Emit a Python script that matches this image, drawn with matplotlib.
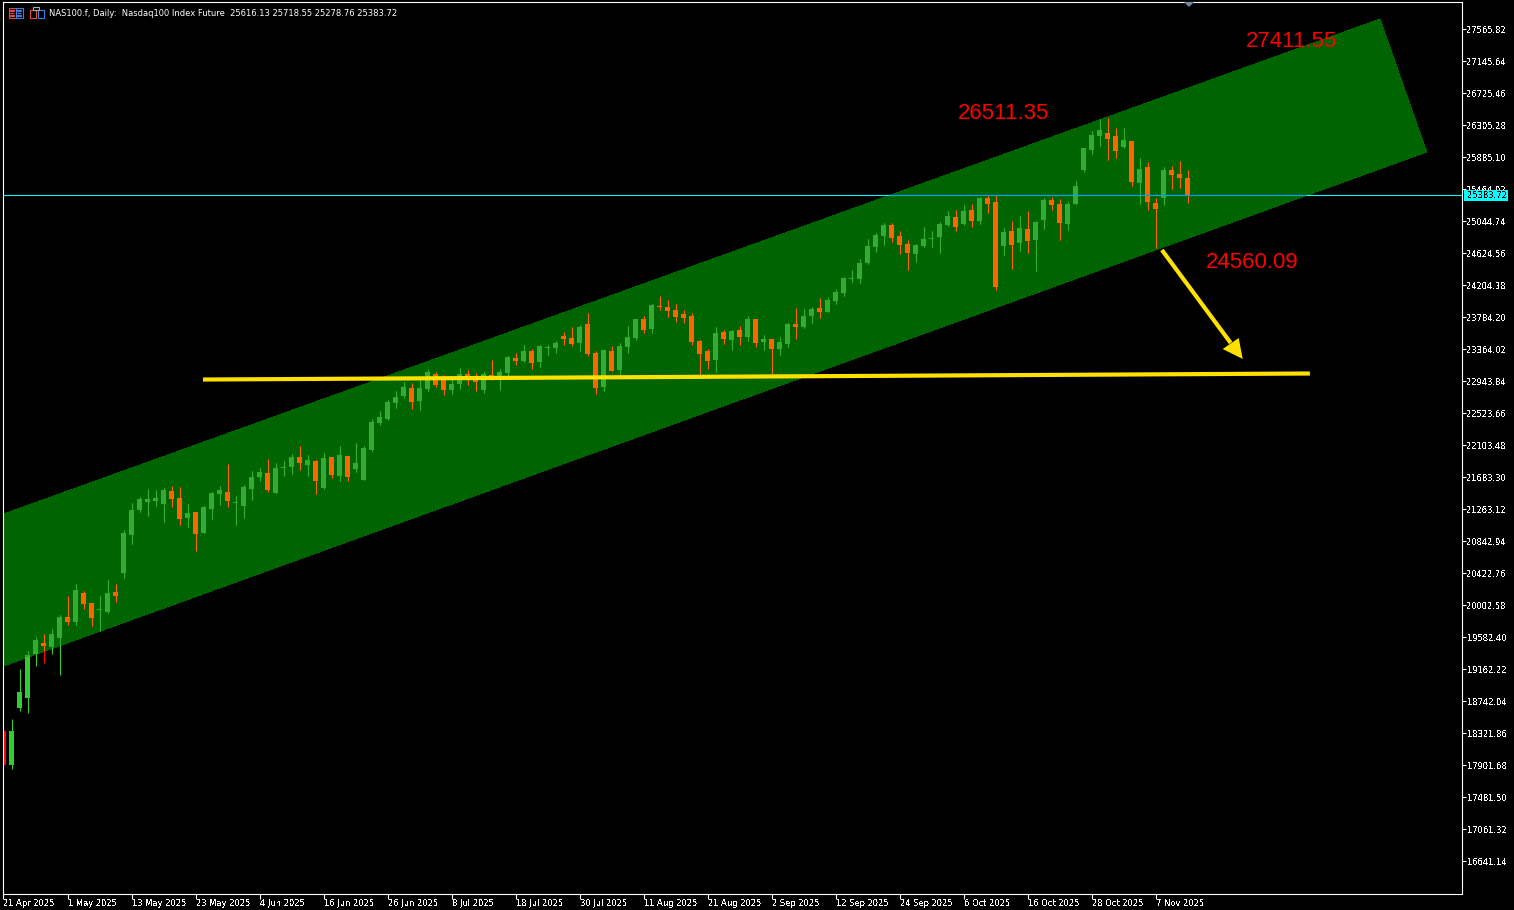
import matplotlib
matplotlib.use('Agg')
import matplotlib.pyplot as plt
from matplotlib.patches import Polygon, Rectangle
import numpy as np

plt.rcParams['text.antialiased'] = False

W, H = 1514, 910

opens = [18352, 17905, 18654, 18785, 19363, 19507, 19455, 19573, 19849, 19783, 20164, 20033, 19941, 19915, 20177,
         20427, 20925, 21254, 21359, 21372, 21333, 21503, 21411, 21149, 21228, 20952, 21267, 21464, 21490, 21346,
         21306, 21530, 21687, 21740, 21477, 21805, 21818, 21950, 21845, 21897, 21543, 21950, 21700, 21963, 21792,
         21648, 22042, 22396, 22449, 22659, 22751, 22856, 22685, 22843, 23040, 22974, 22829, 22908, 23040, 22974,
         22829, 23026, 22974, 23053, 23250, 23210, 23341, 23197, 23381, 23381, 23539, 23512, 23447, 23696, 23315,
         22869, 23341, 23092, 23394, 23512, 23762, 23630, 23933, 23919, 23880, 23827, 23801, 23473, 23341, 23223,
         23591, 23486, 23617, 23525, 23762, 23460, 23499, 23368, 23434, 23696, 23657, 23801, 23906, 23854, 23998,
         24103, 24287, 24287, 24497, 24707, 24852, 24996, 24852, 24747, 24615, 24720, 24812, 24838, 24996, 25101,
         25009, 25193, 25049, 25351, 25298, 24720, 24917, 24760, 24944, 24799, 25062, 25324, 25272, 25009, 25272,
         25718, 25981, 26165, 26204, 26165, 26020, 26099, 25548, 25758, 25285, 25351, 25718, 25666, 25616.13]
highs = [18352, 18509, 19166, 19402, 19586, 19625, 19691, 19875, 20125, 20282, 20190, 20033, 20125, 20335, 20282,
         20991, 21346, 21424, 21530, 21517, 21543, 21569, 21556, 21333, 21228, 21306, 21490, 21569, 21858, 21438,
         21582, 21766, 21805, 21923, 21871, 21897, 21989, 22094, 21976, 21910, 22002, 21950, 22094, 21963, 22134,
         22094, 22449, 22554, 22698, 22816, 22935, 22921, 22961, 23105, 23066, 23026, 22987, 23118, 23092, 23053,
         23066, 23223, 23105, 23276, 23315, 23420, 23368, 23420, 23420, 23473, 23591, 23657, 23683, 23841, 23341,
         23355, 23407, 23447, 23670, 23762, 23801, 23959, 24064, 24011, 23959, 23880, 23841, 23486, 23368, 23657,
         23617, 23617, 23670, 23801, 23762, 23552, 23499, 23525, 23709, 23906, 23893, 23919, 24038, 24051, 24156,
         24313, 24405, 24550, 24812, 24891, 25022, 25022, 24917, 24799, 24747, 24970, 24917, 25035, 25180, 25193,
         25259, 25272, 25364, 25390, 25390, 24957, 25049, 25114, 25180, 25049, 25351, 25364, 25337, 25298, 25574,
         26007, 26230, 26388, 26401, 26270, 26270, 26099, 25876, 25823, 25351, 25758, 25771, 25836, 25718.55]
lows = [17905, 17853, 18614, 18588, 19205, 19245, 19363, 19087, 19744, 19744, 19954, 19731, 19665, 19902, 20046,
        20361, 20807, 21228, 21175, 21306, 21096, 21293, 21057, 21031, 20715, 20952, 21136, 21320, 21293, 21057,
        21149, 21385, 21635, 21490, 21477, 21700, 21727, 21779, 21700, 21464, 21530, 21674, 21635, 21635, 21753,
        21648, 22029, 22370, 22436, 22593, 22724, 22580, 22567, 22816, 22869, 22764, 22777, 22843, 22895, 22816,
        22790, 22961, 22829, 23000, 23158, 23197, 23105, 23131, 23289, 23315, 23420, 23407, 23341, 23276, 22777,
        22816, 23079, 23040, 23315, 23486, 23578, 23578, 23880, 23788, 23722, 23709, 23420, 23026, 23105, 23066,
        23434, 23355, 23420, 23473, 23394, 23355, 23026, 23289, 23394, 23499, 23643, 23709, 23775, 23854, 23959,
        24064, 24248, 24234, 24484, 24642, 24734, 24773, 24615, 24405, 24510, 24707, 24707, 24629, 24983, 24917,
        24996, 24970, 25009, 25154, 24143, 24602, 24418, 24655, 24629, 24392, 24944, 25193, 24799, 24930, 25272,
        25692, 25928, 26033, 25850, 25876, 26007, 25508, 25272, 25193, 24694, 25259, 25469, 25482, 25278.76]
closes = [17905, 18352, 18864, 19350, 19547, 19468, 19625, 19849, 19783, 20203, 20019, 19836, 19954, 20164, 20125,
          20952, 21254, 21398, 21398, 21411, 21517, 21398, 21136, 21215, 20939, 21293, 21477, 21517, 21372, 21359,
          21556, 21687, 21753, 21517, 21805, 21818, 21950, 21871, 21910, 21635, 21937, 21713, 21976, 21687, 21871,
          22068, 22409, 22475, 22672, 22738, 22869, 22672, 22856, 23066, 22895, 22829, 22908, 23040, 22974, 22935,
          23040, 23013, 23066, 23263, 23210, 23341, 23184, 23407, 23394, 23447, 23499, 23434, 23657, 23302, 22856,
          23355, 23079, 23407, 23525, 23762, 23617, 23946, 23919, 23867, 23788, 23775, 23460, 23302, 23210, 23578,
          23499, 23604, 23525, 23762, 23447, 23499, 23368, 23460, 23696, 23657, 23801, 23893, 23854, 24011, 24116,
          24300, 24300, 24497, 24720, 24865, 24996, 24825, 24734, 24629, 24734, 24812, 24825, 25009, 25114, 24970,
          25180, 25049, 25351, 25272, 24182, 24904, 24734, 24957, 24786, 25035, 25324, 25259, 25022, 25272, 25508,
          26007, 26178, 26244, 26125, 25968, 26112, 25561, 25731, 25298, 25206, 25718, 25653, 25613, 25383.72]

price_ticks = [27565.82, 27145.64, 26725.46, 26305.28, 25885.10, 25464.92, 25044.74, 24624.56, 24204.38,
               23784.20, 23364.02, 22943.84, 22523.66, 22103.48, 21683.30, 21263.12, 20842.94, 20422.76,
               20002.58, 19582.40, 19162.22, 18742.04, 18321.86, 17901.68, 17481.50, 17061.32, 16641.14]
date_labels = ['21 Apr 2025', '1 May 2025', '13 May 2025', '23 May 2025', '4 Jun 2025', '16 Jun 2025',
               '26 Jun 2025', '8 Jul 2025', '18 Jul 2025', '30 Jul 2025', '11 Aug 2025', '21 Aug 2025',
               '2 Sep 2025', '12 Sep 2025', '24 Sep 2025', '6 Oct 2025', '16 Oct 2025', '28 Oct 2025', '7 Nov 2025']
date_pos = [i * 8 for i in range(len(date_labels))]

channel_x = [0, 172.06, 177.9, 0]
channel_y = [21200, 27700, 25955, 19205]
level_x = [24.94, 163.3]
level_y = [22967, 23046]
arrow_x = [144.8, 153.4]
arrow_y = [24668, 23447]
head_x = [154.9, 152.4, 154.4]
head_y = [23237, 23368, 23512]
labels = ['27411.55', '26511.35', '24560.09']
labels_x = [155.3, 119.3, 150.3]
labels_y = [27410, 26455, 24510]
last_price = closes[-1]

fig = plt.figure(figsize=(W / 100, H / 100), dpi=100, facecolor='black')
ax = fig.add_axes([3.3 / W, 1 - 894 / H, (1462 - 3.3) / W, (894 - 1.5) / H], facecolor='black')
ax.set_xlim(-0.025, (1462 - 3.5) / 8)
ax.set_ylim(16211.3, 27930.9)

channel = Polygon(np.column_stack([channel_x, channel_y]), closed=True, facecolor='#006400', edgecolor='none',
                  antialiased=False, zorder=1)
ax.add_patch(channel)

opens = np.array(opens)
closes = np.array(closes)
highs = np.array(highs)
lows = np.array(lows)
idx = np.arange(len(opens))
up = closes >= opens


# candles are drawn twice, the second pass only shows inside the channel
def draw_candles(bull, bear, z, clip=None):
    for mask, col in [(up, bull), (~up, bear)]:
        wicks = ax.vlines(idx[mask], lows[mask], highs[mask], colors=col, linewidth=0.8, zorder=z)
        bars = ax.bar(idx[mask], np.abs(closes[mask] - opens[mask]), bottom=np.minimum(opens, closes)[mask],
                      width=0.625, color=col, linewidth=0, zorder=z + 0.1)
        if clip is not None:
            wicks.set_clip_path(clip)
            for b in bars:
                b.set_clip_path(clip)


draw_candles('#32cd32', '#ff0000', 2)
draw_candles('#32ad32', '#ff6400', 3, channel)

ax.axhline(last_price, color='#19f5f5', linewidth=0.8, zorder=4)
cline = ax.axhline(last_price, color='#009bff', linewidth=0.8, zorder=4.1)
cline.set_clip_path(channel)

ax.plot(level_x, level_y, color='#ffe100', linewidth=3.0, solid_capstyle='butt', zorder=5)
ax.plot(arrow_x, arrow_y, color='#ffe100', linewidth=3.0, solid_capstyle='butt', zorder=5)
ax.fill(head_x, head_y, color='#ffe100', linewidth=0, zorder=5)

for t, tx, ty in zip(labels, labels_x, labels_y):
    ax.text(tx, ty, t, color='#ff0000', fontsize=16, family='Liberation Sans', ha='left', va='center', zorder=6,
            antialiased=True)

for s in ax.spines.values():
    s.set_color('white')
    s.set_linewidth(0.8)
    s.set_zorder(7)

ax.yaxis.tick_right()
ax.set_yticks(price_ticks)
ax.set_yticklabels(['%.2f' % p for p in price_ticks])
ax.set_xticks(date_pos)
ax.set_xticklabels(date_labels, ha='left')
ax.tick_params(axis='y', colors='white', length=3, width=0.8, labelsize=6, pad=0.5)
ax.tick_params(axis='x', colors='white', length=3.6, width=0.8, labelsize=6, pad=0)

fig.add_artist(Rectangle((1464 / W, 1 - 200.8 / H), 44 / W, 10.8 / H, transform=fig.transFigure,
                         facecolor='#00ffff', edgecolor='none', zorder=8))
fig.text(1467 / W, 1 - 195.6 / H, '%.2f' % last_price, color='black', fontsize=6, va='center', ha='left', zorder=9)

fig.text(49 / W, 1 - 13 / H, 'NAS100.f, Daily:  Nasdaq100 Index Future  25616.13 25718.55 25278.76 25383.72',
         color='white', fontsize=6.04, va='center', ha='left', zorder=9, antialiased=True)


# toolbar icons and the small shift marker, in pixels from the top left
def px_rect(x, y, w, h, col):
    fig.add_artist(Rectangle((x / W, 1 - (y + h) / H), w / W, h / H, transform=fig.transFigure,
                             facecolor='none', edgecolor=col, linewidth=0.8, zorder=9))


px_rect(8.5, 7.5, 7, 10, '#e04b3f')
px_rect(15.5, 7.5, 7, 10, '#3f7fe0')
for yy in [10.5, 13, 15.5]:
    px_rect(10, yy, 4, 0.1, '#e04b3f')
    px_rect(17, yy, 4, 0.1, '#3f7fe0')
px_rect(29.5, 9.5, 6, 8, '#e04b3f')
px_rect(37.5, 9.5, 6, 8, '#3f7fe0')
px_rect(33, 7, 6, 3, '#aaaaaa')

fig.add_artist(Polygon([[1184 / W, 1 - 2 / H], [1194 / W, 1 - 2 / H], [1189 / W, 1 - 7 / H]], closed=True,
                       transform=fig.transFigure, facecolor='#7088a0', edgecolor='none', zorder=9))

plt.savefig('out.png', dpi=100, facecolor='black')
